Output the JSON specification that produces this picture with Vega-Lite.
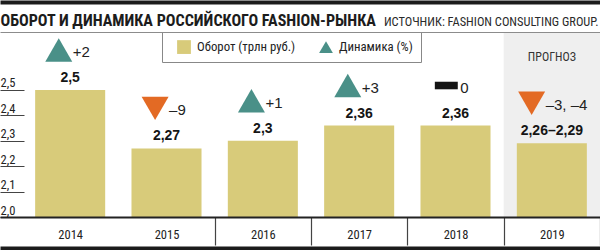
{
  "$schema": "https://vega.github.io/schema/vega-lite/v6.json",
  "width": 600,
  "height": 185,
  "autosize": {"type": "none"},
  "padding": {"left": 0, "top": 32, "right": 0, "bottom": 33},
  "background": "#ffffff",
  "config": {
    "view": {"stroke": null},
    "axisY": {
      "orient": "left", "title": null, "domain": false, "ticks": false,
      "grid": true, "gridColor": "#444444", "gridWidth": 1, "gridDash": [24, 2000],
      "labelAlign": "left", "labelBaseline": "alphabetic", "labelPadding": 0, "labelOffset": -3,
      "labelFont": "Roboto Condensed", "labelFontSize": 12.5, "labelColor": "#222222",
      "labelFlush": false, "labelOverlap": false, "zindex": 1
    }
  },
  "data": {
    "values": [
      {"year": "2014", "value": 2.5, "label": "2,5", "delta": "+2", "dir": "up"},
      {"year": "2015", "value": 2.27, "label": "2,27", "delta": "–9", "dir": "down"},
      {"year": "2016", "value": 2.3, "label": "2,3", "delta": "+1", "dir": "up"},
      {"year": "2017", "value": 2.36, "label": "2,36", "delta": "+3", "dir": "up"},
      {"year": "2018", "value": 2.36, "label": "2,36", "delta": "0", "dir": "zero"},
      {"year": "2019", "value": 2.29, "label": "2,26–2,29", "delta": "–3, –4", "dir": "down", "note": "ПРОГНОЗ"}
    ]
  },
  "resolve": {"axis": {"x": "independent"}},
  "layer": [
    {
      "transform": [{"filter": "datum.note"}],
      "mark": {"type": "rect", "color": "#efefef"},
      "encoding": {
        "x": {
          "field": "year", "type": "ordinal",
          "scale": {"type": "band", "paddingInner": 0, "paddingOuter": 0.1142, "align": 1},
          "axis": {
            "orient": "bottom", "title": null, "domain": true, "domainColor": "#222222", "domainWidth": 2,
            "ticks": true, "tickBand": "extent", "tickSize": 28, "tickColor": "#444444", "tickWidth": 1.2,
            "tickOpacity": {"condition": {"test": "datum.value === '2014' || datum.value == null", "value": 0}, "value": 1},
            "labelFont": "Roboto Condensed", "labelFontSize": 12.5, "labelColor": "#222222",
            "labelBaseline": "alphabetic", "labelPadding": -7, "labelAngle": 0, "zindex": 1
          }
        },
        "y": {
          "datum": 2.728, "type": "quantitative",
          "scale": {"domain": [2, 2.728], "nice": false, "zero": false},
          "axis": {"values": [2, 2.1, 2.2, 2.3, 2.4, 2.5], "labelExpr": "replace(format(datum.value, '.1f'), '.', ',')"}
        },
        "y2": {"datum": 2}
      }
    },
    {
      "mark": {"type": "bar", "color": "#d8cb7a", "width": {"band": 0.727}},
      "encoding": {
        "x": {
          "field": "year", "type": "ordinal",
          "scale": {"type": "band", "paddingInner": 0, "paddingOuter": 0.1142, "align": 1},
          "axis": {
            "orient": "top", "offset": 30, "domain": true, "domainColor": "#1c1c1c", "domainWidth": 4,
            "ticks": false, "labels": false, "grid": false,
            "title": "ОБОРОТ И ДИНАМИКА РОССИЙСКОГО FASHION-РЫНКА",
            "titleX": 0, "titleY": 23, "titleAlign": "left", "titleBaseline": "alphabetic",
            "titleFont": "Roboto Condensed", "titleFontWeight": "bold", "titleFontSize": 16.1,
            "titleColor": "#1c1c1c", "zindex": 1
          }
        },
        "y": {
          "field": "value", "type": "quantitative",
          "scale": {"domain": [2, 2.728], "nice": false, "zero": false},
          "axis": {"values": [2, 2.1, 2.2, 2.3, 2.4, 2.5], "labelExpr": "replace(format(datum.value, '.1f'), '.', ',')"}
        },
        "y2": {"datum": 2}
      }
    },
    {
      "mark": {"type": "text", "font": "Liberation Sans", "fontWeight": "bold", "fontSize": 14, "color": "#151515", "baseline": "alphabetic", "yOffset": -8},
      "encoding": {
        "x": {
          "field": "year", "type": "ordinal",
          "scale": {"type": "band", "paddingInner": 0, "paddingOuter": 0.1142, "align": 1},
          "axis": {
            "orient": "top", "offset": 0, "domain": true, "domainColor": "#8c8c8c", "domainWidth": 1,
            "ticks": false, "labels": false, "grid": false,
            "title": "ИСТОЧНИК: FASHION CONSULTING GROUP.",
            "titleX": 598, "titleY": -7, "titleAlign": "right", "titleBaseline": "alphabetic",
            "titleFont": "Roboto Condensed", "titleFontWeight": "normal", "titleFontSize": 12.4,
            "titleColor": "#2a2a2a", "zindex": 1
          }
        },
        "y": {
          "field": "value", "type": "quantitative",
          "scale": {"domain": [2, 2.728], "nice": false, "zero": false},
          "axis": {"values": [2, 2.1, 2.2, 2.3, 2.4, 2.5], "labelExpr": "replace(format(datum.value, '.1f'), '.', ',')"}
        },
        "text": {"field": "label"}
      }
    },
    {
      "mark": {"type": "point", "filled": true, "opacity": 1, "size": 729, "strokeWidth": 0, "yOffset": -40, "xOffset": {"expr": "-(7 + 2.2 * length(datum.delta))"}},
      "encoding": {
        "x": {
          "field": "year", "type": "ordinal",
          "scale": {"type": "band", "paddingInner": 0, "paddingOuter": 0.1142, "align": 1},
          "axis": {
            "orient": "bottom", "offset": 31, "domain": true, "domainColor": "#1c1c1c", "domainWidth": 4,
            "ticks": false, "labels": false, "grid": false, "title": null, "zindex": 1
          }
        },
        "y": {
          "field": "value", "type": "quantitative",
          "scale": {"domain": [2, 2.728], "nice": false, "zero": false},
          "axis": {"values": [2, 2.1, 2.2, 2.3, 2.4, 2.5], "labelExpr": "replace(format(datum.value, '.1f'), '.', ',')"}
        },
        "color": {
          "field": "dir", "type": "nominal",
          "scale": {"domain": ["bar", "up", "down", "zero"], "range": ["#d8cb7a", "#4a9088", "#e36a24", "#141414"]},
          "legend": {
            "orient": "none", "legendX": 162, "legendY": 0, "direction": "horizontal", "title": null,
            "values": ["bar", "up"],
            "labelExpr": "datum.value === 'bar' ? 'Оборот (трлн руб.)' : 'Динамика (%)'",
            "strokeColor": "#888888", "fillColor": "#ffffff", "padding": 8, "symbolOffset": 7,
            "labelOffset": 6, "columnPadding": 16, "symbolSize": 190, "symbolStrokeWidth": 0, "symbolOpacity": 1,
            "labelFont": "Roboto Condensed", "labelFontSize": 12.8, "labelColor": "#222222"
          }
        },
        "shape": {
          "field": "dir", "type": "nominal",
          "scale": {"domain": ["bar", "up", "down", "zero"], "range": ["square", "triangle-up", "triangle-down", "M-0.85,-0.28L0.85,-0.28L0.85,0.28L-0.85,0.28Z"]},
          "legend": {
            "orient": "none", "legendX": 162, "legendY": 0, "direction": "horizontal", "title": null,
            "values": ["bar", "up"],
            "labelExpr": "datum.value === 'bar' ? 'Оборот (трлн руб.)' : 'Динамика (%)'",
            "strokeColor": "#888888", "fillColor": "#ffffff", "padding": 8, "symbolOffset": 7,
            "labelOffset": 6, "columnPadding": 16, "symbolSize": 190, "symbolStrokeWidth": 0, "symbolOpacity": 1,
            "labelFont": "Roboto Condensed", "labelFontSize": 12.8, "labelColor": "#222222"
          }
        }
      }
    },
    {
      "mark": {"type": "text", "align": "left", "baseline": "alphabetic", "font": "Liberation Sans", "fontSize": 15, "color": "#222222", "yOffset": -33, "xOffset": {"expr": "7 - 2.2 * length(datum.delta)"}},
      "encoding": {
        "x": {"field": "year", "type": "ordinal", "scale": {"type": "band", "paddingInner": 0, "paddingOuter": 0.1142, "align": 1}, "axis": null},
        "y": {
          "field": "value", "type": "quantitative",
          "scale": {"domain": [2, 2.728], "nice": false, "zero": false},
          "axis": {"values": [2, 2.1, 2.2, 2.3, 2.4, 2.5], "labelExpr": "replace(format(datum.value, '.1f'), '.', ',')"}
        },
        "text": {"field": "delta"}
      }
    },
    {
      "transform": [{"filter": "datum.note"}],
      "mark": {"type": "text", "font": "Roboto Condensed", "fontSize": 12, "color": "#333333", "baseline": "alphabetic"},
      "encoding": {
        "x": {"field": "year", "type": "ordinal", "scale": {"type": "band", "paddingInner": 0, "paddingOuter": 0.1142, "align": 1}, "axis": null},
        "y": {
          "datum": 2.614, "type": "quantitative",
          "scale": {"domain": [2, 2.728], "nice": false, "zero": false},
          "axis": {"values": [2, 2.1, 2.2, 2.3, 2.4, 2.5], "labelExpr": "replace(format(datum.value, '.1f'), '.', ',')"}
        },
        "text": {"field": "note"}
      }
    }
  ]
}
